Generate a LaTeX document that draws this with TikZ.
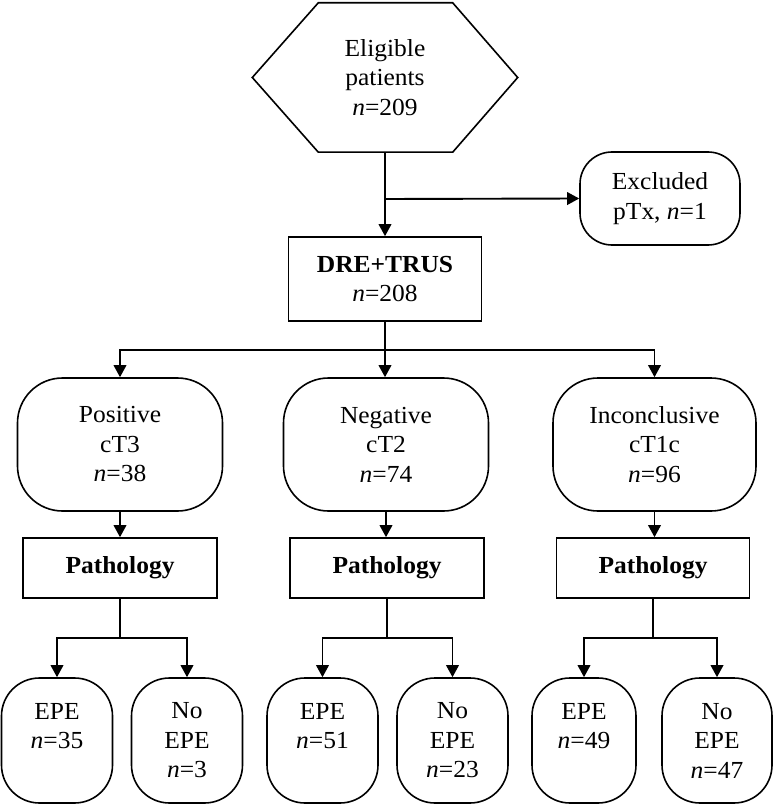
\documentclass[tikz,border=0pt]{standalone}
\usepackage{fontspec}
\setmainfont{Liberation Serif}[FakeStretch=1.04]
\usetikzlibrary{arrows.meta}
\begin{document}
\begin{tikzpicture}[x=1pt,y=-1pt,
  every node/.style={font=\fontsize{24.5}{29.5}\selectfont, align=center, inner sep=0pt},
  boxline/.style={line width=1.6pt},
  sqbox/.style={draw, boxline},
  rbox/.style={draw, boxline, rounded corners=#1},
  conn/.style={line width=1.9pt},
  arr/.style={conn, -{Triangle[length=12pt,width=12.5pt]}}
]
\useasboundingbox (0,0) rectangle (776,805);

% top hexagon
\node[minimum width=265pt, minimum height=149pt] (hex) at (385,77.5) {Eligible\\patients\\\textit{n}=209};
\draw[boxline] (hex.west) -- ([xshift=66pt]hex.north west) -- ([xshift=-65pt]hex.north east)
  -- (hex.east) -- ([xshift=-65pt]hex.south east) -- ([xshift=66pt]hex.south west) -- cycle;

% excluded
\node[rbox=32pt, minimum width=160pt, minimum height=93pt] (excl) at (660,198.5) {Excluded\\pTx, \textit{n}=1};

% DRE+TRUS
\node[sqbox, minimum width=193pt, minimum height=84pt] (dre) at (385,279) {\textbf{DRE+TRUS}\\\textit{n}=208};

% level 2
\node[rbox=45pt, minimum width=205pt, minimum height=133pt] (pos) at (120,444.5) {Positive\\cT3\\\textit{n}=38};
\node[rbox=45pt, minimum width=205pt, minimum height=133pt] (neg) at (386,444.5) {Negative\\cT2\\\textit{n}=74};
\node[rbox=45pt, minimum width=203pt, minimum height=133pt] (inc) at (654.5,444.5) {Inconclusive\\cT1c\\\textit{n}=96};

% pathology
\node[sqbox, minimum width=194pt, minimum height=60pt] (pa1) at (120,568) {\textbf{Pathology}};
\node[sqbox, minimum width=194pt, minimum height=60pt] (pa2) at (387,568) {\textbf{Pathology}};
\node[sqbox, minimum width=193pt, minimum height=60pt] (pa3) at (653,568) {\textbf{Pathology}};

% bottom
\node[rbox=38pt, minimum width=111pt, minimum height=125pt] (e1) at (57,740.5) {EPE\\\textit{n}=35\\\mbox{}};
\node[rbox=38pt, minimum width=111pt, minimum height=125pt] (ne1) at (187,740.5) {No\\EPE\\\textit{n}=3};
\node[rbox=38pt, minimum width=111pt, minimum height=125pt] (e2) at (322.5,740.5) {EPE\\\textit{n}=51\\\mbox{}};
\node[rbox=38pt, minimum width=111pt, minimum height=125pt] (ne2) at (452.5,740.5) {No\\EPE\\\textit{n}=23};
\node[rbox=38pt, minimum width=104pt, minimum height=125pt] (e3) at (584,740.5) {EPE\\\textit{n}=49\\\mbox{}};
\node[rbox=38pt, minimum width=110pt, minimum height=125pt] (ne3) at (717,740.5) {No\\EPE\\\textit{n}=47};

% connectors
\coordinate (j0) at (385,199);
\draw[arr] (hex.south) -- (dre.north);
\draw[arr] (j0) -- (excl.west);

\coordinate (f1) at (385,350);
\draw[conn] (dre.south) -- (f1);
\draw[arr] (f1) -| (pos.north);
\draw[arr] (f1) -| (inc.north);
\draw[arr] (f1) -- (f1 |- neg.north);

\draw[arr] (pos.south) -- (pos.south |- pa1.north);
\draw[arr] (neg.south) -- (neg.south |- pa2.north);
\draw[arr] (inc.south) -- (inc.south |- pa3.north);

\coordinate (g1) at (120,638);
\coordinate (g2) at (387,638);
\coordinate (g3) at (653,638);
\draw[conn] (pa1.south) -- (g1);
\draw[conn] (pa2.south) -- (g2);
\draw[conn] (pa3.south) -- (g3);
\draw[arr] (g1) -| (e1.north);
\draw[arr] (g1) -| (ne1.north);
\draw[arr] (g2) -| (e2.north);
\draw[arr] (g2) -| (ne2.north);
\draw[arr] (g3) -| (e3.north);
\draw[arr] (g3) -| (ne3.north);
\end{tikzpicture}
\end{document}
